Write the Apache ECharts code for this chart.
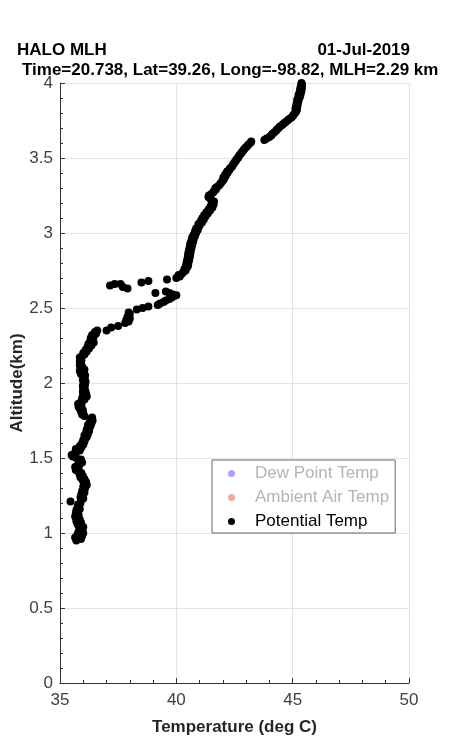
<!DOCTYPE html>
<html>
<head>
<meta charset="utf-8">
<script src="https://cdn.jsdelivr.net/npm/echarts@6/dist/echarts.min.js"></script>
<style>
  html, body { margin: 0; padding: 0; background: #fff; }
  #chart { width: 453px; height: 738px; }
</style>
</head>
<body>
<div id="chart"></div>
<script>
// altitude (km) and potential temperature (deg C)
var altKm = [
  0.95, 0.96, 0.97, 0.98, 0.99, 1.00, 1.01, 1.02, 1.03, 1.04,
  1.05, 1.06, 1.07, 1.08, 1.09, 1.10, 1.11, 1.12, 1.13, 1.14,
  1.15, 1.16, 1.17, 1.18, 1.19, 1.20, 1.21, 1.22, 1.23, 1.24,
  1.25, 1.26, 1.27, 1.28, 1.29, 1.30, 1.31, 1.32, 1.33, 1.34,
  1.35, 1.36, 1.37, 1.38, 1.39, 1.40, 1.41, 1.42, 1.43, 1.44,
  1.45, 1.46, 1.47, 1.48, 1.49, 1.50, 1.51, 1.52, 1.53, 1.54,
  1.55, 1.56, 1.57, 1.58, 1.59, 1.60, 1.61, 1.62, 1.63, 1.64,
  1.65, 1.66, 1.67, 1.68, 1.69, 1.70, 1.71, 1.72, 1.73, 1.74,
  1.75, 1.76, 1.77, 1.78, 1.79, 1.80, 1.81, 1.82, 1.83, 1.84,
  1.85, 1.86, 1.87, 1.88, 1.89, 1.90, 1.91, 1.92, 1.93, 1.94,
  1.95, 1.96, 1.97, 1.98, 1.99, 2.00, 2.01, 2.02, 2.03, 2.04,
  2.05, 2.06, 2.07, 2.08, 2.09, 2.10, 2.11, 2.12, 2.13, 2.14,
  2.15, 2.16, 2.17, 2.18, 2.19, 2.20, 2.21, 2.22, 2.23, 2.24,
  2.25, 2.26, 2.27, 2.28, 2.29, 2.30, 2.31, 2.32, 2.33, 2.34,
  2.35,
  // inversion, lower branch
  2.35, 2.37, 2.38, 2.40, 2.41, 2.42, 2.43, 2.44, 2.45, 2.46,
  2.47, 2.49, 2.50, 2.51, 2.52, 2.53, 2.54, 2.55, 2.56, 2.57,
  2.58, 2.585, 2.59, 2.60, 2.61, 2.60,
  // scattered dots
  2.65, 2.66, 2.66, 2.64, 2.63, 2.67, 2.68, 2.69,
  // upper part
  2.70, 2.71, 2.72, 2.73, 2.74, 2.75, 2.76, 2.77, 2.78, 2.79,
  2.80, 2.81, 2.82, 2.83, 2.84, 2.85, 2.86, 2.87, 2.88, 2.89,
  2.90, 2.91, 2.92, 2.93, 2.94, 2.95, 2.96, 2.97, 2.98, 2.99,
  3.00, 3.01, 3.02, 3.03, 3.04, 3.05, 3.06, 3.07, 3.08, 3.09,
  3.10, 3.11, 3.12, 3.13, 3.14, 3.15, 3.16, 3.17, 3.18, 3.19,
  3.20, 3.21, 3.22, 3.23, 3.24, 3.25, 3.26, 3.27, 3.28, 3.29,
  3.30, 3.31, 3.32, 3.33, 3.34, 3.35, 3.36, 3.37, 3.38, 3.39,
  3.40, 3.41, 3.42, 3.43, 3.44, 3.45, 3.46, 3.47, 3.48, 3.49,
  3.50, 3.51, 3.52, 3.53, 3.54, 3.55, 3.56, 3.57, 3.58, 3.59,
  3.60, 3.61, 3.62, 3.63, 3.64, 3.65, 3.66, 3.67, 3.68, 3.69,
  3.70, 3.71, 3.72, 3.73, 3.74, 3.75, 3.76, 3.77, 3.78, 3.79,
  3.80, 3.81, 3.82, 3.83, 3.84, 3.85, 3.86, 3.87, 3.88, 3.89,
  3.90, 3.91, 3.92, 3.93, 3.94, 3.95, 3.96, 3.97, 3.98, 3.99,
  4.00
];

var potTemp = [
  35.70, 35.90, 35.65, 35.95, 35.75, 36.00, 35.80, 35.95, 35.85, 36.00,
  35.80, 35.75, 35.90, 35.70, 35.85, 35.72, 35.65, 35.80, 35.68, 35.78,
  35.70, 35.85, 35.75, 35.82, 35.78, 35.88, 35.45, 35.90, 36.00, 35.88,
  35.98, 35.92, 36.05, 35.95, 36.02, 36.08, 36.00, 36.15, 36.05, 36.12,
  35.98, 36.05, 35.88, 35.98, 35.85, 35.92, 35.78, 35.68, 35.80, 35.65,
  35.75, 35.85, 35.95, 35.82, 35.90, 35.70, 35.55, 35.50, 35.62, 35.70,
  35.85, 35.68, 35.92, 35.85, 36.00, 35.95, 36.05, 36.00, 36.08, 36.15,
  36.05, 36.20, 36.12, 36.25, 36.15, 36.22, 36.30, 36.20, 36.35, 36.28,
  36.40, 36.32, 36.38, 36.05, 35.95, 36.00, 35.90, 35.98, 35.85, 35.80,
  35.92, 35.78, 35.88, 35.95, 36.05, 35.95, 36.15, 36.00, 36.12, 35.98,
  36.08, 36.00, 36.05, 35.98, 36.08, 36.02, 36.10, 35.98, 36.05, 36.00,
  36.08, 35.90, 36.02, 35.85, 36.05, 35.88, 35.95, 35.85, 35.90, 35.85,
  35.92, 35.88, 35.85, 35.95, 36.05, 36.00, 36.15, 36.10, 36.25, 36.18,
  36.35, 36.22, 36.45, 36.30, 36.40, 36.32, 36.45, 36.38, 36.55, 36.50,
  36.60,
  37.00, 37.20, 37.50, 37.80, 37.95, 37.85, 38.00, 37.90, 37.95, 38.00,
  37.95, 38.30, 38.55, 38.80, 39.20, 39.30, 39.45, 39.55, 39.70, 39.80,
  39.90, 40.00, 39.85, 39.70, 39.55, 39.10,
  37.15, 37.35, 37.60, 37.70, 37.90, 38.50, 38.80, 39.60,
  40.00, 40.15, 40.10, 40.25, 40.30, 40.40, 40.35, 40.45, 40.50, 40.42,
  40.52, 40.45, 40.55, 40.48, 40.58, 40.50, 40.60, 40.52, 40.62, 40.55,
  40.65, 40.58, 40.68, 40.60, 40.72, 40.65, 40.75, 40.68, 40.80, 40.75,
  40.85, 40.80, 40.92, 40.85, 40.95, 41.00, 40.95, 41.10, 41.05, 41.18,
  41.12, 41.25, 41.20, 41.35, 41.30, 41.45, 41.40, 41.55, 41.48, 41.60,
  41.55, 41.62, 41.50, 41.45, 41.38, 41.40, 41.50, 41.58, 41.62, 41.70,
  41.68, 41.78, 41.85, 41.90, 41.95, 42.00, 42.05, 42.02, 42.12, 42.10,
  42.20, 42.18, 42.28, 42.30, 42.38, 42.42, 42.45, 42.50, 42.55, 42.58,
  42.65, 42.68, 42.72, 42.78, 42.82, 42.88, 42.92, 42.98, 43.05, 43.10,
  43.18, 43.22, 43.78, 43.88, 44.00, 44.08, 44.12, 44.20, 44.28, 44.32,
  44.40, 44.45, 44.55, 44.62, 44.70, 44.78, 44.85, 44.95, 45.00, 45.05,
  45.10, 45.15, 45.18, 45.12, 45.20, 45.15, 45.22, 45.18, 45.25, 45.20,
  45.28, 45.32, 45.25, 45.35, 45.30, 45.38, 45.32, 45.40, 45.35, 45.40,
  45.38
];

// the other two profiles fall outside the plotted range
var dewPoint = [];
var ambientTemp = [];

var xTicks = { min: 35, max: 50, step: 5 };
var yTicks = { min: 0, max: 4, step: 0.5 };

var chart = echarts.init(document.getElementById('chart'), null, { renderer: 'canvas' });

var font = "'Liberation Sans', Arial, sans-serif";
var potData = [];
for (var i = 0; i < altKm.length; i++) {
  potData.push([potTemp[i], altKm[i]]);
}

var option = {
  animation: false,
  backgroundColor: '#fff',
  textStyle: { fontFamily: font },
  title: [
    { text: 'HALO MLH', left: 17, top: 42, padding: 0,
      textStyle: { fontSize: 17, fontWeight: 'bold', color: '#000', fontFamily: font } },
    { text: '01-Jul-2019', right: 43, top: 42, padding: 0,
      textStyle: { fontSize: 17, fontWeight: 'bold', color: '#000', fontFamily: font } },
    { text: 'Time=20.738, Lat=39.26, Long=-98.82, MLH=2.29 km', left: 22, top: 62, padding: 0,
      textStyle: { fontSize: 17, fontWeight: 'bold', color: '#000', fontFamily: font } }
  ],
  legend: {
    orient: 'vertical',
    left: 212,
    top: 460,
    padding: [5, 6, 3, 16],
    itemGap: 7,
    itemWidth: 7,
    itemHeight: 7,
    icon: 'circle',
    selectedMode: false,
    borderColor: '#666',
    borderWidth: 1,
    backgroundColor: '#fff',
    textStyle: { fontSize: 17, fontFamily: font, padding: [0, 0, 0, 15] },
    data: [
      { name: 'Dew Point Temp', textStyle: { color: '#b4b4b4' } },
      { name: 'Ambient Air Temp', textStyle: { color: '#b4b4b4' } },
      { name: 'Potential Temp', textStyle: { color: '#000' } }
    ]
  },
  grid: { left: 60, right: 44, top: 83, bottom: 55, containLabel: false, outerBoundsMode: 'none' },
  xAxis: {
    type: 'value',
    min: xTicks.min, max: xTicks.max, interval: xTicks.step,
    name: 'Temperature (deg C)',
    nameLocation: 'middle',
    nameGap: 36,
    nameMoveOverlap: false,
    nameTextStyle: { fontSize: 17, fontWeight: 'bold', color: '#262626', fontFamily: font },
    axisLine: { show: true, lineStyle: { color: '#333', width: 1 } },
    axisTick: { show: true, inside: true, length: 5, lineStyle: { color: '#333' } },
    minorTick: { show: true, splitNumber: 5, length: 3, lineStyle: { color: '#333' } },
    axisLabel: { fontSize: 17, color: '#404040', margin: 9, fontFamily: font },
    splitLine: { show: true, lineStyle: { color: '#e3e3e3', width: 1 } }
  },
  yAxis: {
    type: 'value',
    min: yTicks.min, max: yTicks.max, interval: yTicks.step,
    name: 'Altitude(km)',
    nameLocation: 'middle',
    nameGap: 34,
    nameMoveOverlap: false,
    nameTextStyle: { fontSize: 17, fontWeight: 'bold', color: '#262626', fontFamily: font },
    axisLine: { show: true, lineStyle: { color: '#333', width: 1 } },
    axisTick: { show: true, inside: true, length: 5, lineStyle: { color: '#333' } },
    minorTick: { show: true, splitNumber: 5, length: 3, lineStyle: { color: '#333' } },
    axisLabel: { fontSize: 17, color: '#404040', margin: 7, fontFamily: font },
    splitLine: { show: true, lineStyle: { color: '#e3e3e3', width: 1 } }
  },
  series: [
    { name: 'Dew Point Temp', type: 'scatter', data: dewPoint, symbolSize: 8,
      itemStyle: { color: '#a5a5f5', opacity: 1 } },
    { name: 'Ambient Air Temp', type: 'scatter', data: ambientTemp, symbolSize: 8,
      itemStyle: { color: '#f5a5a5', opacity: 1 } },
    { name: 'Potential Temp', type: 'scatter', data: potData, symbolSize: 8,
      itemStyle: { color: '#000', opacity: 1 } }
  ]
};

chart.setOption(option);
</script>
</body>
</html>
